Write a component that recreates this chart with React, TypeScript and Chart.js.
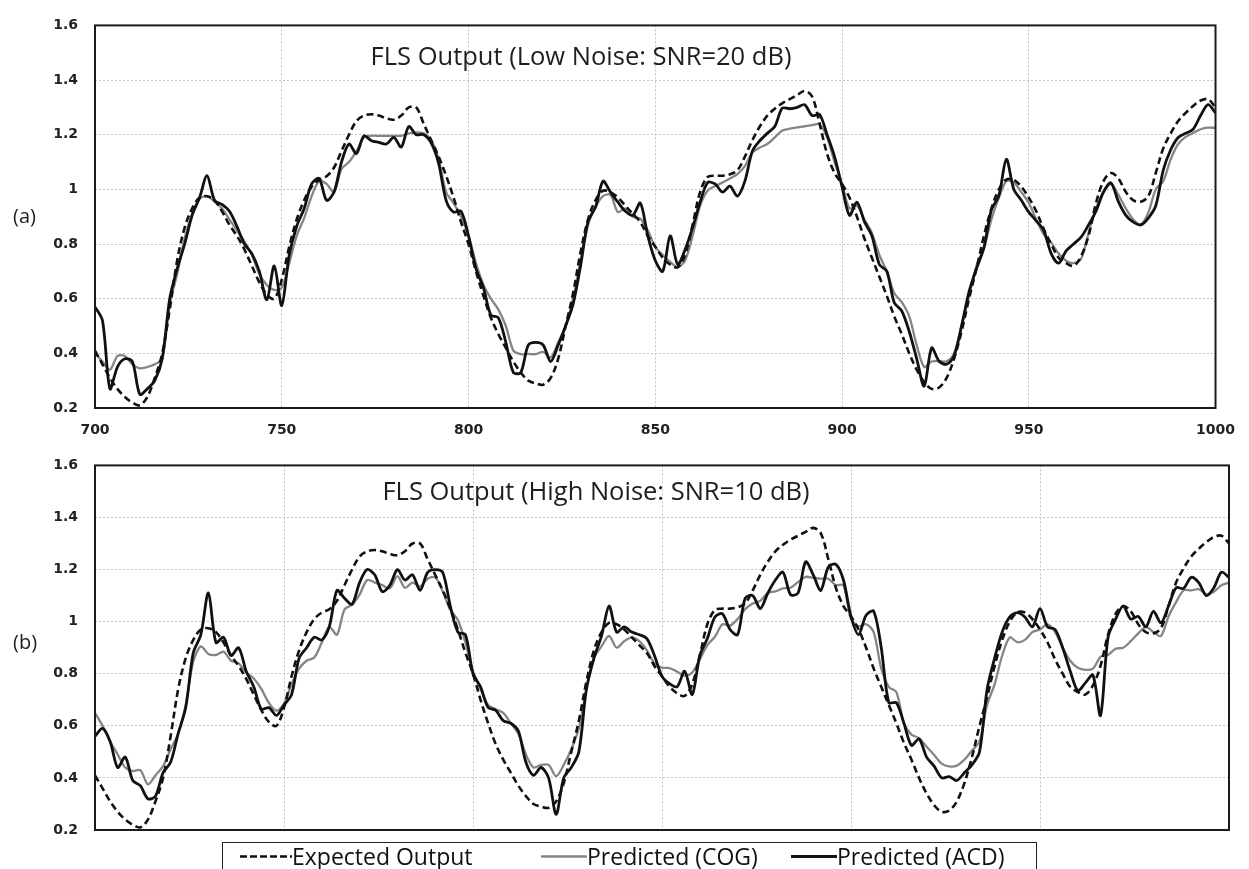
import React, { useEffect, useRef } from "react";
import { Chart, registerables } from "chart.js";

Chart.register(...registerables);

// ---- sampling grid (x positions of every reading) ----
const X_START = 700;
const X_STEP = 2;

// ---- axis ticks ----
const X_MIN = 700;
const X_MAX = 1000;
const X_TICK_STEP = 50;
const Y_MIN = 0.2;
const Y_MAX = 1.6;
const Y_TICK_STEP = 0.2;

// ---- text ----
const PANEL_TITLES = ["FLS Output (Low Noise: SNR=20 dB)", "FLS Output (High Noise: SNR=10 dB)"];
const PANEL_LABELS = ["(a)", "(b)"];
const SERIES_NAMES = ["Expected Output", "Predicted (COG)", "Predicted (ACD)"];

// ---- series values (x = 700, 702, ..., 1000) ----
const expectedOutput = [
  0.41, 0.36, 0.31, 0.27, 0.24, 0.22, 0.21, 0.24, 0.31, 0.40,
  0.56, 0.74, 0.86, 0.93, 0.97, 0.975, 0.96, 0.92, 0.87, 0.83,
  0.78, 0.72, 0.66, 0.615, 0.60, 0.67, 0.79, 0.89, 0.96, 1.01,
  1.035, 1.048, 1.08, 1.14, 1.20, 1.25, 1.27, 1.275, 1.27, 1.26,
  1.255, 1.27, 1.30, 1.30, 1.24, 1.18, 1.12, 1.05, 0.97, 0.88,
  0.80, 0.70, 0.61, 0.53, 0.47, 0.42, 0.37, 0.33, 0.30, 0.29,
  0.285, 0.31, 0.38, 0.50, 0.62, 0.77, 0.89, 0.96, 0.995, 0.99,
  0.97, 0.94, 0.91, 0.88, 0.83, 0.79, 0.75, 0.725, 0.715, 0.76,
  0.87, 0.99, 1.045, 1.05, 1.05, 1.055, 1.07, 1.12, 1.18, 1.23,
  1.27, 1.295, 1.315, 1.33, 1.345, 1.36, 1.34, 1.24, 1.13, 1.06,
  1.02, 0.97, 0.90, 0.82, 0.75, 0.68, 0.61, 0.535, 0.47, 0.40,
  0.34, 0.295, 0.27, 0.275, 0.31, 0.38, 0.48, 0.60, 0.71, 0.83,
  0.93, 1.0, 1.036, 1.035, 1.01, 0.97, 0.92, 0.855, 0.80, 0.75,
  0.73, 0.72, 0.755, 0.83, 0.95, 1.03, 1.06, 1.04, 0.99, 0.96,
  0.955, 0.975, 1.06, 1.15, 1.205, 1.25, 1.28, 1.305, 1.325, 1.33,
  1.30,
];

const lowNoiseCOG = [
  0.40, 0.37, 0.34, 0.39, 0.39, 0.36, 0.345, 0.35, 0.36, 0.38,
  0.58, 0.69, 0.82, 0.91, 0.965, 0.975, 0.955, 0.93, 0.89, 0.85,
  0.81, 0.76, 0.69, 0.65, 0.632, 0.64, 0.73, 0.83, 0.895, 0.975,
  1.03, 1.02, 0.99, 1.075, 1.10, 1.14, 1.19, 1.196, 1.196, 1.196,
  1.196, 1.196, 1.205, 1.208, 1.205, 1.18, 1.11, 0.99, 0.95, 0.90,
  0.83, 0.73, 0.65, 0.60, 0.56, 0.50, 0.41, 0.397, 0.398, 0.397,
  0.405, 0.385, 0.44, 0.50, 0.60, 0.74, 0.87, 0.935, 0.975, 0.98,
  0.917, 0.93, 0.90, 0.893, 0.85, 0.79, 0.76, 0.735, 0.715, 0.74,
  0.83, 0.94, 0.995, 1.012, 1.025, 1.04, 1.056, 1.085, 1.135, 1.153,
  1.166, 1.19, 1.215, 1.222, 1.227, 1.231, 1.235, 1.238, 1.19, 1.10,
  1.02, 0.93, 0.94, 0.89, 0.84, 0.76, 0.70, 0.62, 0.587, 0.535,
  0.43, 0.35, 0.37, 0.371, 0.371, 0.40, 0.50, 0.61, 0.72, 0.785,
  0.89, 0.97, 1.03, 1.025, 0.99, 0.95, 0.89, 0.835, 0.805, 0.765,
  0.739, 0.73, 0.745, 0.84, 0.93, 0.99, 1.02, 0.98, 0.93, 0.89,
  0.872, 0.915, 1.0, 1.03, 1.11, 1.166, 1.192, 1.206, 1.22, 1.226,
  1.225,
];

const lowNoiseACD = [
  0.57, 0.52, 0.27, 0.35, 0.38, 0.37, 0.25, 0.27, 0.30, 0.38,
  0.60, 0.71, 0.80, 0.905, 0.97, 1.05, 0.96, 0.945, 0.92, 0.865,
  0.80, 0.765, 0.70, 0.596, 0.72, 0.575, 0.76, 0.865, 0.93, 1.02,
  1.04, 0.96, 0.99, 1.10, 1.166, 1.131, 1.196, 1.178, 1.172, 1.166,
  1.19, 1.155, 1.23, 1.20, 1.20, 1.17, 1.095, 0.96, 0.917, 0.92,
  0.83, 0.71, 0.64, 0.54, 0.53, 0.44, 0.33, 0.33, 0.43, 0.44,
  0.43, 0.37, 0.43, 0.50, 0.58, 0.72, 0.882, 0.935, 1.03, 0.99,
  0.953, 0.92, 0.905, 0.95, 0.83, 0.74, 0.70, 0.83, 0.725, 0.78,
  0.86, 0.953, 1.025, 1.02, 0.99, 1.012, 0.975, 1.03, 1.14, 1.178,
  1.205, 1.23, 1.297, 1.295, 1.30, 1.31, 1.27, 1.274, 1.20, 1.12,
  1.01, 0.905, 0.953, 0.882, 0.83, 0.725, 0.70, 0.585, 0.555, 0.48,
  0.38, 0.28, 0.42, 0.371, 0.36, 0.39, 0.50, 0.625, 0.71, 0.787,
  0.925, 0.977, 1.11, 1.0, 0.96, 0.917, 0.885, 0.85, 0.765, 0.73,
  0.775, 0.80, 0.825, 0.87, 0.92, 0.99, 1.024, 0.955, 0.905, 0.88,
  0.87, 0.895, 0.94, 1.07, 1.145, 1.19, 1.205, 1.22, 1.27, 1.31,
  1.28,
];

const highNoiseCOG = [
  0.65, 0.60, 0.54, 0.49, 0.44, 0.426, 0.43, 0.375, 0.41, 0.445,
  0.51, 0.57, 0.68, 0.847, 0.905, 0.876, 0.872, 0.885, 0.85, 0.84,
  0.805, 0.782, 0.742, 0.688, 0.658, 0.685, 0.76, 0.82, 0.85, 0.862,
  0.92, 0.98, 0.95, 1.047, 1.065, 1.104, 1.16, 1.15, 1.14, 1.128,
  1.175, 1.13, 1.15, 1.135, 1.165, 1.17, 1.116, 1.045, 1.006, 0.92,
  0.81, 0.74, 0.68, 0.664, 0.65, 0.61, 0.57, 0.49, 0.44, 0.45,
  0.45, 0.407, 0.45, 0.51, 0.59, 0.74, 0.86, 0.905, 0.945, 0.90,
  0.925, 0.94, 0.925, 0.89, 0.84, 0.823, 0.822, 0.808, 0.793, 0.805,
  0.855, 0.91, 0.942, 0.99, 0.985, 1.01, 1.048, 1.07, 1.08, 1.11,
  1.116, 1.128, 1.13, 1.152, 1.172, 1.168, 1.165, 1.165, 1.14, 1.14,
  1.01, 0.982, 0.99, 0.96, 0.82, 0.75, 0.73, 0.61, 0.566, 0.553,
  0.52, 0.488, 0.455, 0.444, 0.447, 0.47, 0.505, 0.54, 0.68, 0.76,
  0.87, 0.94, 0.921, 0.93, 0.96, 0.97, 0.99, 0.96, 0.90, 0.85,
  0.823, 0.815, 0.82, 0.865, 0.872, 0.896, 0.90, 0.925, 0.955, 0.98,
  0.96, 0.945, 1.02, 1.075, 1.12, 1.12, 1.125, 1.105, 1.115, 1.14,
  1.15,
];

const highNoiseACD = [
  0.56, 0.59, 0.54, 0.44, 0.48, 0.39, 0.37, 0.32, 0.33, 0.42,
  0.46, 0.57, 0.67, 0.88, 0.95, 1.11, 0.92, 0.94, 0.87, 0.90,
  0.81, 0.75, 0.664, 0.67, 0.64, 0.68, 0.72, 0.86, 0.90, 0.94,
  0.93, 0.982, 1.12, 1.09, 1.067, 1.15, 1.20, 1.18, 1.115, 1.14,
  1.20, 1.16, 1.18, 1.12, 1.189, 1.20, 1.189, 1.06, 0.96, 0.95,
  0.80, 0.75, 0.67, 0.66, 0.62, 0.61, 0.58, 0.46, 0.41, 0.44,
  0.40, 0.26, 0.40, 0.44, 0.50, 0.74, 0.86, 0.945, 1.06, 0.96,
  0.98, 0.96, 0.95, 0.935, 0.87, 0.79, 0.762, 0.75, 0.81, 0.72,
  0.87, 0.935, 1.018, 1.03, 0.97, 0.95, 1.09, 1.10, 1.05, 1.11,
  1.16, 1.19, 1.104, 1.11, 1.23, 1.18, 1.12, 1.21, 1.22, 1.16,
  1.02, 0.95, 1.025, 1.04, 0.90, 0.689, 0.689, 0.61, 0.525, 0.55,
  0.48, 0.445, 0.40, 0.405, 0.39, 0.42, 0.45, 0.50, 0.74, 0.86,
  0.96, 1.018, 1.035, 1.018, 0.98, 1.05, 0.98, 0.97, 0.90, 0.81,
  0.735, 0.765, 0.795, 0.64, 0.94, 1.01, 1.06, 1.01, 1.02, 0.98,
  1.04, 0.995, 1.06, 1.13, 1.128, 1.17, 1.15, 1.10, 1.13, 1.19,
  1.17,
];

const toPoints = (vals: number[]) => vals.map((y, i) => ({ x: X_START + i * X_STEP, y }));

const decorPlugin = {
  id: "decor",
  afterDraw(chart: any, _args: any, opts: any) {
    const { ctx, chartArea: a } = chart;
    ctx.save();
    ctx.strokeStyle = "#1a1a1a";
    ctx.lineWidth = 2;
    ctx.setLineDash([]);
    ctx.strokeRect(a.left, a.top, a.right - a.left, a.bottom - a.top);
    ctx.fillStyle = "#1e1e1e";
    ctx.font = '25.5px "Open Sans"';
    ctx.textAlign = "center";
    ctx.textBaseline = "alphabetic";
    ctx.fillText(opts.title, opts.titleX, opts.titleY);
    ctx.font = '20px "Open Sans"';
    ctx.textAlign = "left";
    ctx.textBaseline = "middle";
    ctx.fillText(opts.label, opts.labelX, opts.labelY);
    ctx.restore();
  },
};

type PanelCfg = {
  cog: number[];
  acd: number[];
  showXLabels: boolean;
  title: string;
  label: string;
  padTop: number;
  xAxisHeight: number;
  titleX: number;
  titleY: number;
  labelY: number;
};

const tickFont = { family: "DejaVu Sans", size: 14, weight: "bold" };

function makeChart(canvas: HTMLCanvasElement, cfg: PanelCfg) {
  return new Chart(canvas, {
    type: "line",
    data: {
      datasets: [
        {
          label: SERIES_NAMES[0],
          data: toPoints(expectedOutput),
          borderColor: "#111111",
          borderWidth: 2.6,
          borderDash: [7, 4],
          pointRadius: 0,
          tension: 0.35,
          fill: false,
          order: 0,
        },
        {
          label: SERIES_NAMES[2],
          data: toPoints(cfg.acd),
          borderColor: "#111111",
          borderWidth: 2.8,
          pointRadius: 0,
          tension: 0.3,
          fill: false,
          order: 1,
        },
        {
          label: SERIES_NAMES[1],
          data: toPoints(cfg.cog),
          borderColor: "#858585",
          borderWidth: 2.3,
          pointRadius: 0,
          tension: 0.3,
          fill: false,
          order: 2,
        },
      ],
    },
    options: {
      animation: false,
      responsive: true,
      maintainAspectRatio: false,
      layout: { padding: { top: cfg.padTop, right: 20, left: 0, bottom: 0 } },
      plugins: {
        legend: { display: false },
        tooltip: { enabled: false },
        decor: {
          title: cfg.title,
          label: cfg.label,
          titleX: cfg.titleX,
          titleY: cfg.titleY,
          labelX: 13,
          labelY: cfg.labelY,
        },
      } as any,
      scales: {
        x: {
          type: "linear",
          min: X_MIN,
          max: X_MAX,
          afterFit: (s: any) => {
            s.height = cfg.xAxisHeight;
          },
          ticks: {
            display: cfg.showXLabels,
            stepSize: X_TICK_STEP,
            padding: 14,
            color: "#222",
            font: tickFont,
            callback: (v: any) => String(v),
          },
          grid: { color: "#c4c4c4", lineWidth: 1, drawTicks: false },
          border: { display: false, dash: [2, 2] },
        },
        y: {
          min: Y_MIN,
          max: Y_MAX,
          afterFit: (s: any) => {
            s.width = 95;
          },
          ticks: {
            stepSize: Y_TICK_STEP,
            padding: 17,
            color: "#222",
            font: tickFont,
            callback: (v: any) => String(Number(Number(v).toFixed(1))),
          },
          grid: { color: "#c4c4c4", lineWidth: 1, drawTicks: false },
          border: { display: false, dash: [2, 2] },
        },
      },
    },
    plugins: [decorPlugin],
  } as any);
}

function Legend() {
  const text: React.CSSProperties = {
    position: "absolute",
    top: -2,
    lineHeight: "30px",
    whiteSpace: "nowrap",
  };
  return (
    <div
      style={{
        position: "absolute",
        left: 222,
        top: 842,
        width: 815,
        height: 40,
        border: "1.5px solid #222",
        boxSizing: "border-box",
        background: "#fff",
        fontFamily: '"Open Sans"',
        fontSize: 23,
        color: "#111",
      }}
    >
      <svg style={{ position: "absolute", left: 17, top: 11 }} width={52} height={5}>
        <line x1={0} y1={2.5} x2={52} y2={2.5} stroke="#111" strokeWidth={2.5} strokeDasharray="7 3" />
      </svg>
      <span style={{ ...text, left: 69 }}>{SERIES_NAMES[0]}</span>
      <svg style={{ position: "absolute", left: 318, top: 11 }} width={46} height={5}>
        <line x1={0} y1={2.5} x2={46} y2={2.5} stroke="#858585" strokeWidth={2.5} />
      </svg>
      <span style={{ ...text, left: 364 }}>{SERIES_NAMES[1]}</span>
      <svg style={{ position: "absolute", left: 568, top: 11 }} width={46} height={5}>
        <line x1={0} y1={2.5} x2={46} y2={2.5} stroke="#111" strokeWidth={2.8} />
      </svg>
      <span style={{ ...text, left: 614 }}>{SERIES_NAMES[2]}</span>
    </div>
  );
}

export default function App() {
  const ref1 = useRef<HTMLCanvasElement>(null);
  const ref2 = useRef<HTMLCanvasElement>(null);

  useEffect(() => {
    const c1 = makeChart(ref1.current!, {
      cog: lowNoiseCOG,
      acd: lowNoiseACD,
      showXLabels: true,
      title: PANEL_TITLES[0],
      label: PANEL_LABELS[0],
      padTop: 15,
      xAxisHeight: 32,
      titleX: 581,
      titleY: 65,
      labelY: 217,
    });
    const c2 = makeChart(ref2.current!, {
      cog: highNoiseCOG,
      acd: highNoiseACD,
      showXLabels: false,
      title: PANEL_TITLES[1],
      label: PANEL_LABELS[1],
      padTop: 8,
      xAxisHeight: 39,
      titleX: 596,
      titleY: 60,
      labelY: 203,
    });
    return () => {
      c1.destroy();
      c2.destroy();
    };
  }, []);

  return (
    <div
      style={{
        position: "absolute",
        left: 0,
        top: 0,
        width: 1249,
        height: 869,
        overflow: "hidden",
        background: "#fff",
      }}
    >
      <div style={{ position: "absolute", left: 0, top: 0, width: 1249, height: 440 }}>
        <canvas ref={ref1} />
      </div>
      <div style={{ position: "absolute", left: 0, top: 440, width: 1249, height: 429 }}>
        <canvas ref={ref2} />
      </div>
      <Legend />
    </div>
  );
}
